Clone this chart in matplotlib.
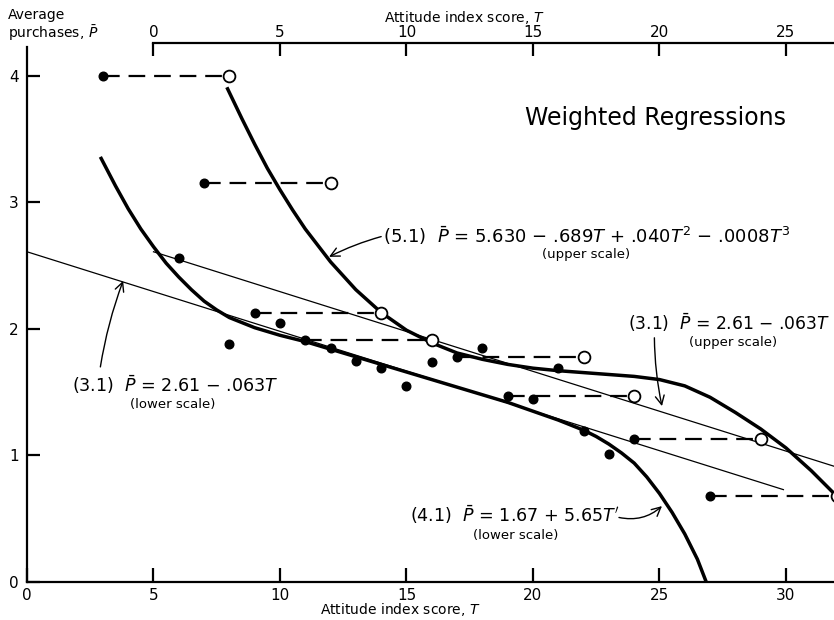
import matplotlib
matplotlib.use('Agg')
import matplotlib.pyplot as plt

plt.rcParams['font.family'] = ['DejaVu Sans']
plt.rcParams['mathtext.fontset'] = 'dejavusans'

# ─── data ─────────────────────────────────────────────────────────────────
# observed points, attitude score T (lower scale) and average purchases P
obs_T = [3, 6, 7, 8, 9, 10, 11, 12, 13, 14, 15, 16, 17, 18, 19, 20, 21, 22, 23, 24, 27]
obs_P = [4.00, 2.56, 3.15, 1.88, 2.13, 2.05, 1.91, 1.85, 1.75, 1.69, 1.55,
         1.74, 1.78, 1.85, 1.47, 1.45, 1.69, 1.19, 1.01, 1.13, 0.68]
# points repeated on the upper scale (open circles)
shift_T = [3, 7, 9, 11, 17, 19, 24, 27]
shift_P = [4.00, 3.15, 2.13, 1.91, 1.78, 1.47, 1.13, 0.68]

# (3.1) linear fit, lower scale and upper scale
lin_lower_T = [0.0, 29.9]
lin_lower_P = [2.61, 0.73]
lin_upper_T = [0.0, 26.9]
lin_upper_P = [2.61, 0.915]

# (4.1) curve, lower scale
c41_T = [2.9, 3.5, 4.0, 4.5, 5.0, 5.5, 6.0, 6.5, 7.0, 7.5, 8.0, 9.0, 10.0,
         11.0, 12.0, 13.0, 14.0, 15.0, 16.0, 17.0, 18.0, 19.0, 20.0, 21.0,
         22.0, 22.5, 23.0, 23.5, 24.0, 24.5, 25.0, 25.5, 26.0, 26.5, 26.85]
c41_P = [3.36, 3.13, 2.95, 2.79, 2.65, 2.52, 2.41, 2.31, 2.22, 2.15, 2.09,
         2.01, 1.95, 1.90, 1.84, 1.78, 1.72, 1.66, 1.60, 1.54, 1.48, 1.42,
         1.35, 1.28, 1.20, 1.15, 1.09, 1.02, 0.94, 0.83, 0.70, 0.55, 0.38,
         0.18, 0.0]

# (5.1) cubic, upper scale
c51_T = [2.9, 3.5, 4.0, 4.5, 5.0, 5.5, 6.0, 7.0, 8.0, 9.0, 10.0, 11.0, 12.0,
         13.0, 14.0, 15.0, 16.0, 17.0, 18.0, 19.0, 20.0, 21.0, 22.0, 23.0,
         24.0, 25.0, 26.0, 26.9]
c51_P = [3.91, 3.66, 3.46, 3.27, 3.10, 2.94, 2.79, 2.53, 2.31, 2.13, 1.99,
         1.89, 1.81, 1.76, 1.72, 1.69, 1.67, 1.655, 1.64, 1.625, 1.60, 1.55,
         1.46, 1.34, 1.21, 1.06, 0.88, 0.70]

x_ticks_lower = [0, 5, 10, 15, 20, 25, 30]
x_ticks_upper = [0, 5, 10, 15, 20, 25]
y_ticks = [0, 1, 2, 3, 4]
OFFSET = 5  # upper scale 0 sits at lower scale 5

# ─── figure ───────────────────────────────────────────────────────────────
fig = plt.figure(figsize=(8.34, 6.2), dpi=100)
ax = fig.add_axes([27 / 834, 1 - 582 / 620, 807 / 834, 539 / 620])
ax.set_xlim(0, 31.9)
ax.set_ylim(0, 4.26)
ax2 = ax.twiny()
ax2.set_xlim(-OFFSET, 31.9 - OFFSET)

for a in (ax, ax2):
    a.patch.set_visible(False)
    for s in a.spines.values():
        s.set_visible(False)

ax.spines['left'].set_visible(True)
ax.spines['bottom'].set_visible(True)
ax.spines['left'].set_bounds(0, 4.23)
ax2.spines['top'].set_visible(True)
ax2.spines['top'].set_bounds(0, 26.9)
for s in (ax.spines['left'], ax.spines['bottom'], ax2.spines['top']):
    s.set_linewidth(1.6)

ax.set_xticks(x_ticks_lower)
ax.set_yticks(y_ticks)
ax2.set_xticks(x_ticks_upper)
ax.tick_params(axis='x', direction='in', length=10, width=1.6, pad=4, labelsize=11)
ax.tick_params(axis='y', direction='in', length=9, width=1.6, pad=6, labelsize=11)
ax2.tick_params(axis='x', direction='in', length=9, width=1.6, pad=2, labelsize=11)

# regression lines
ax.plot(lin_lower_T, lin_lower_P, color='black', lw=0.9)
ax2.plot(lin_upper_T, lin_upper_P, color='black', lw=0.9)
ax.plot(c41_T, c41_P, color='black', lw=2.5, solid_capstyle='butt',
        solid_joinstyle='round')
ax2.plot(c51_T, c51_P, color='black', lw=2.5, solid_capstyle='butt',
         solid_joinstyle='round')

# dashed connectors between lower and upper positions
for t, p in zip(shift_T, shift_P):
    ax.plot([t, t + OFFSET], [p, p], color='black', lw=1.6, dashes=(7.5, 4), zorder=2)

ax.plot(obs_T, obs_P, 'o', color='black', ms=6.2, zorder=4)
ax2.plot(shift_T, shift_P, 'o', mfc='white', mec='black', mew=1.3, ms=8.5,
         zorder=4, clip_on=False)

# annotations
ax.text(19.7, 3.67, 'Weighted Regressions', fontsize=17, va='center', ha='left')

ax.text(14.07, 2.735, r'(5.1)  $\bar{P}$ = 5.630 − .689$T$ + .040$T^2$ − .0008$T^3$',
        fontsize=13, va='center', ha='left')
ax.text(22.1, 2.585, '(upper scale)', fontsize=9.5, va='center', ha='center')

ax.text(1.78, 1.557, r'(3.1)  $\bar{P}$ = 2.61 − .063$T$', fontsize=12.6,
        va='center', ha='left')
ax.text(5.77, 1.40, '(lower scale)', fontsize=9.5, va='center', ha='center')

ax.text(31.75, 2.05, r'(3.1)  $\bar{P}$ = 2.61 − .063$T$', fontsize=12.3,
        va='center', ha='right')
ax.text(27.9, 1.89, '(upper scale)', fontsize=9.5, va='center', ha='center')

ax.text(15.14, 0.53, r"(4.1)  $\bar{P}$ = 1.67 + 5.65$T'$", fontsize=12.6,
        va='center', ha='left')
ax.text(19.3, 0.37, '(lower scale)', fontsize=9.5, va='center', ha='center')

arrow = dict(arrowstyle='->', lw=1.0, color='black', shrinkA=0, shrinkB=0,
             mutation_scale=16)
ax.annotate('', xy=(11.94, 2.57), xytext=(14.0, 2.73),
            arrowprops=dict(arrow, connectionstyle='arc3,rad=0.05'))
ax.annotate('', xy=(3.8, 2.38), xytext=(2.9, 1.70),
            arrowprops=dict(arrow, connectionstyle='arc3,rad=-0.05'))
ax.annotate('', xy=(25.1, 1.39), xytext=(24.8, 1.93),
            arrowprops=dict(arrow, connectionstyle='arc3,rad=0.05'))
ax.annotate('', xy=(25.1, 0.60), xytext=(23.4, 0.51),
            arrowprops=dict(arrow, connectionstyle='arc3,rad=0.25'))

# axis titles
fig.text(8 / 834, 1 - 8 / 620, 'Average\npurchases, $\\bar{P}$', fontsize=10,
         va='top', ha='left', linespacing=1.1)
fig.text(464 / 834, 1 - 17 / 620, 'Attitude index score, $T$', fontsize=10,
         va='center', ha='center')
fig.text(400 / 834, 1 - 610 / 620, 'Attitude index score, $T$', fontsize=10,
         va='center', ha='center')

fig.savefig('out.png', dpi=100)
